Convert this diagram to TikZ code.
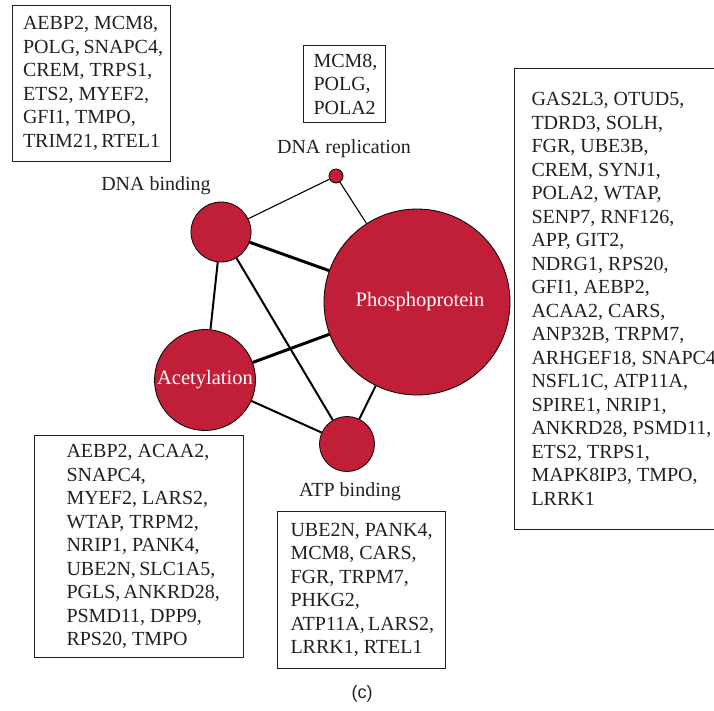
\documentclass[tikz,border=0pt]{standalone}
\usepackage{fontspec}
\setmainfont{Liberation Serif}
\newfontfamily\capfont{Liberation Sans}
\definecolor{termred}{RGB}{193,30,56}
\definecolor{inkgray}{RGB}{35,31,32}
\tikzset{
  term/.style={circle,draw=black,line width=.8pt,fill=termred,inner sep=0pt,
    text=white,font=\fontsize{20.5}{23.5}\selectfont},
  termname/.style={text=inkgray,font=\fontsize{20}{23.5}\selectfont,inner sep=0pt},
  genebox/.style={draw=inkgray,line width=1pt,anchor=north west,align=flush left,
    inner ysep=0pt,text=inkgray,font=\fontsize{20}{23.5}\selectfont},
  thinlink/.style={line width=1.1pt},
  midlink/.style={line width=2pt},
  thicklink/.style={line width=3pt},
}

\begin{document}
\begin{tikzpicture}[x=1pt,y=-1pt]
	\useasboundingbox (0,0) rectangle (714,710);
	\clip (0,0) rectangle (714,710);
	
	% GO terms
	\node [term,minimum size=60pt]  (bind)  at (221,232) {};
	\node [term,minimum size=14pt]  (repl)  at (336,176) {};
	\node [term,minimum size=186pt] (phos)  at (417,302) {\hspace*{6pt}Phosphoprotein};
	\node [term,minimum size=101pt] (acet)  at (205,380) {Acetylation};
	\node [term,minimum size=55pt]  (atp)   at (347,444) {};
	
	\node [termname] (bindname) at (156,186) {DNA binding};
	\node [termname] (replname) at (344,149) {DNA replication};
	\node [termname] (atpname)  at (350,492) {ATP binding};
	
	% shared genes
	\draw [thinlink]  (bind) -- (repl);
	\draw [thinlink]  (repl) -- (phos);
	\draw [thicklink] (bind) -- (phos);
	\draw [midlink]   (bind) -- (acet);
	\draw [midlink]   (bind) -- (atp);
	\draw [thicklink] (acet) -- (phos);
	\draw [midlink]   (acet) -- (atp);
	\draw [midlink]   (phos) -- (atp);
	
	% gene lists (lines kept whole with ~)
	\node [genebox,inner xsep=10.5pt,text width=137pt,minimum height=156pt] (bindgenes) at (12,5)
		{AEBP2,~MCM8,\\ POLG,~SNAPC4,\\ CREM,~TRPS1,\\ ETS2,~MYEF2,\\ GFI1,~TMPO,\\ TRIM21,~RTEL1};
	\node [genebox,inner xsep=10pt,text width=62pt,minimum height=77pt] (replgenes) at (303,45)
		{MCM8,\\ POLG,\\ POLA2};
	\node [genebox,inner xsep=17pt,text width=260pt,minimum height=461pt] (phosgenes) at (514,68)
		{GAS2L3,~OTUD5,\\ TDRD3,~SOLH,\\ FGR,~UBE3B,\\ CREM,~SYNJ1,\\ POLA2,~WTAP,\\ SENP7,~RNF126,\\
		APP,~GIT2,\\ NDRG1,~RPS20,\\ GFI1,~AEBP2,\\ ACAA2,~CARS,\\ ANP32B,~TRPM7,\\ ARHGEF18,~SNAPC4,\\
		NSFL1C,~ATP11A,\\ SPIRE1,~NRIP1,\\ ANKRD28,~PSMD11,\\ ETS2,~TRPS1,\\ MAPK8IP3,~TMPO,\\ LRRK1};
	\node [genebox,inner xsep=32pt,text width=145pt,minimum height=222pt] (acetgenes) at (34,435)
		{AEBP2,~ACAA2,\\ SNAPC4,\\ MYEF2,~LARS2,\\ WTAP,~TRPM2,\\ NRIP1,~PANK4,\\ UBE2N,~SLC1A5,\\
		PGLS,~ANKRD28,\\ PSMD11,~DPP9,\\ RPS20,~TMPO};
	\node [genebox,inner xsep=13pt,text width=142pt,minimum height=157pt] (atpgenes) at (277,511)
		{UBE2N,~PANK4,\\ MCM8,~CARS,\\ FGR,~TRPM7,\\ PHKG2,\\ ATP11A,~LARS2,\\ LRRK1,~RTEL1};
	
	\node [text=inkgray,font=\capfont\fontsize{18}{20}\selectfont] (panel) at (362,694) {(c)};
\end{tikzpicture}
\end{document}
